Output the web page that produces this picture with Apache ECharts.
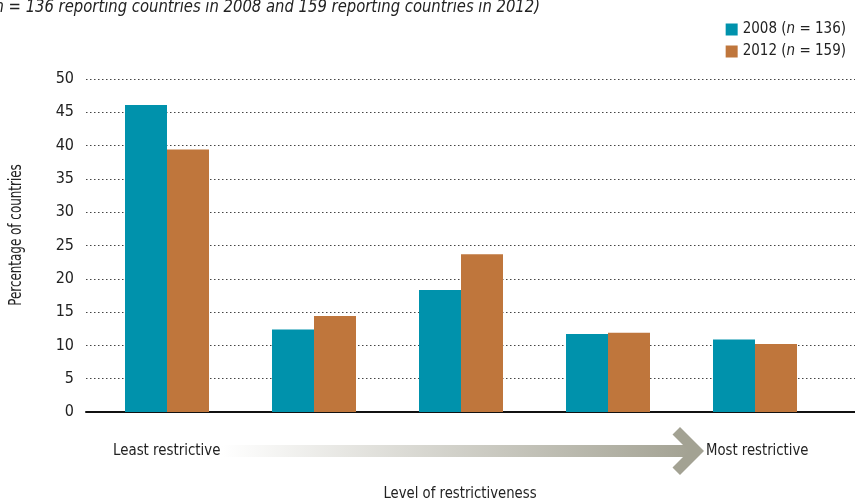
<!DOCTYPE html>
<html>
<head>
<meta charset="utf-8">
<script src="https://cdn.jsdelivr.net/npm/echarts@6/dist/echarts.min.js"></script>
<style>
  html, body { margin: 0; padding: 0; background: #fff; }
  #chart { width: 855px; height: 504px; }
</style>
</head>
<body>
<div id="chart"></div>
<script>
var FONT = "'Liberation Sans Narrow', 'DejaVu Sans Condensed', 'Arial Narrow', sans-serif";

// restrictiveness levels, least -> most
var levels = ['1', '2', '3', '4', '5'];
var pct2008 = [46.1, 12.4, 18.3, 11.7, 10.9];
var pct2012 = [39.4, 14.4, 23.7, 11.9, 10.2];
var seriesNames = ['2008 (n = 136)', '2012 (n = 159)'];
var yMin = 0, yMax = 50, yStep = 5;

var chart = echarts.init(document.getElementById('chart'));

var legendRich = {
    a: { fontFamily: FONT, fontSize: 15, color: '#222', lineHeight: 17 },
    i: { fontFamily: FONT, fontSize: 15, color: '#222', fontStyle: 'italic', lineHeight: 17 }
};

// plain text block for graphic labels, squeezed a bit to look like a condensed face
function label(txt, x, y, align, sx, size, extra) {
    var st = {
        text: txt, fontFamily: FONT, fontSize: size || 16, fill: '#222',
        textAlign: align || 'left', textVerticalAlign: 'middle'
    };
    for (var k in extra) st[k] = extra[k];
    return { type: 'text', x: x, y: y, scaleX: sx || 1, style: st };
}

chart.setOption({
    animation: false,
    grid: [
        // frame grid: dotted lines + axis line across the full width
        { left: 86, right: 0, top: 79, bottom: 92 },
        // bars grid
        { left: 93.5, right: 26.5, top: 79, bottom: 92 }
    ],
    legend: {
        orient: 'vertical',
        right: 4,
        top: 17,
        icon: 'rect',
        itemWidth: 12,
        itemHeight: 12,
        itemGap: 7,
        data: seriesNames,
        formatter: function(name) {
            var parts = name.split('n');
            return '{a|' + parts[0] + '}{i|n}{a|' + parts[1] + '}';
        },
        textStyle: { rich: legendRich }
    },
    xAxis: [
        {
            gridIndex: 0, type: 'value', min: 0, max: 1,
            axisLine: { show: true, lineStyle: { color: '#111', width: 2 } },
            axisTick: { show: false }, axisLabel: { show: false }, splitLine: { show: false }
        },
        {
            gridIndex: 1, type: 'category', data: levels,
            axisLine: { show: false }, axisTick: { show: false }, axisLabel: { show: false }
        }
    ],
    yAxis: [
        {
            gridIndex: 0, type: 'value', min: yMin, max: yMax, interval: yStep,
            axisLine: { show: false }, axisTick: { show: false },
            axisLabel: { fontFamily: FONT, fontSize: 16, color: '#222', margin: 12 },
            splitLine: { lineStyle: { type: [1.5, 2.5], color: '#444', width: 1 } }
        },
        {
            gridIndex: 1, type: 'value', min: yMin, max: yMax, interval: yStep,
            axisLine: { show: false }, axisTick: { show: false },
            axisLabel: { show: false }, splitLine: { show: false }
        }
    ],
    series: [
        {
            name: seriesNames[0], type: 'bar', xAxisIndex: 1, yAxisIndex: 1,
            data: pct2008, barWidth: 42, barGap: '0%',
            itemStyle: { color: '#0092AC' }
        },
        {
            name: seriesNames[1], type: 'bar', xAxisIndex: 1, yAxisIndex: 1,
            data: pct2012, barWidth: 42, barGap: '0%',
            itemStyle: { color: '#BF763C' }
        }
    ],
    graphic: [
        label('(n = 136 reporting countries in 2008 and 159 reporting countries in 2012)',
              540, 7, 'right', 0.915, 18, { fontStyle: 'italic' }),
        {
            type: 'text', x: 17, y: 235, rotation: Math.PI / 2, scaleX: 0.78,
            style: {
                text: 'Percentage of countries', fontFamily: FONT, fontSize: 17, fill: '#222',
                textAlign: 'center', textVerticalAlign: 'middle'
            }
        },
        {
            type: 'rect', shape: { x: 222, y: 445, width: 468, height: 12 },
            style: {
                fill: new echarts.graphic.LinearGradient(0, 0, 1, 0, [
                    { offset: 0, color: '#ffffff' },
                    { offset: 1, color: '#a3a293' }
                ])
            }
        },
        {
            type: 'polygon',
            shape: { points: [[680, 427], [704, 451], [680, 475], [672.5, 467.5], [689, 451], [672.5, 434.5]] },
            style: { fill: '#a3a293' }
        },
        label('Least restrictive', 113, 451, 'left', 0.93),
        label('Most restrictive', 706, 451, 'left', 0.92),
        label('Level of restrictiveness', 460, 494, 'center', 0.92)
    ]
});
</script>
</body>
</html>
